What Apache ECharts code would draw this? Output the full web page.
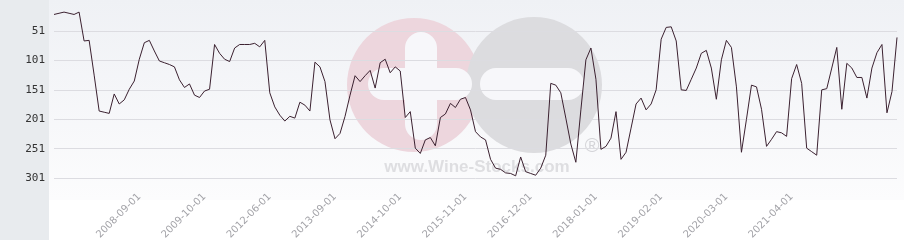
<!DOCTYPE html>
<html>
<head>
<meta charset="utf-8">
<script src="https://cdn.jsdelivr.net/npm/echarts@6/dist/echarts.min.js"></script>
<style>
html,body{margin:0;padding:0;background:#ffffff;}
#chart{width:904px;height:240px;}
</style>
</head>
<body>
<div id="chart"></div>
<script>
var categories = [
'2007-04-01','2007-05-01','2007-06-01','2007-07-01','2007-08-01','2007-09-01','2007-10-01','2007-11-01','2007-12-01',
'2008-01-01','2008-02-01','2008-03-01','2008-04-01','2008-05-01','2008-06-01','2008-07-01','2008-08-01','2008-09-01','2008-10-01','2008-11-01','2008-12-01',
'2009-01-01','2009-02-01','2009-03-01','2009-04-01','2009-05-01','2009-06-01','2009-07-01','2009-08-01','2009-09-01',
'2009-10-01','2009-11-01','2009-12-01','2010-01-01','2010-02-01','2010-03-01','2010-05-01','2010-08-01','2010-11-01',
'2011-03-01','2011-07-01','2011-11-01','2012-03-01','2012-06-01','2012-07-01','2012-08-01','2012-09-01','2012-10-01','2012-11-01',
'2013-01-01','2013-02-01','2013-03-01','2013-04-01','2013-05-01','2013-06-01','2013-08-01','2013-09-01','2013-10-01','2013-11-01','2013-12-01',
'2014-01-01','2014-02-01','2014-03-01','2014-04-01','2014-05-01','2014-06-01','2014-07-01','2014-08-01','2014-09-01','2014-10-01','2014-11-01','2014-12-01',
'2015-01-01','2015-02-01','2015-03-01','2015-04-01','2015-05-01','2015-06-01','2015-07-01','2015-08-01','2015-09-01','2015-10-01','2015-11-01','2015-12-01',
'2016-01-01','2016-02-01','2016-03-01','2016-04-01','2016-05-01','2016-06-01','2016-07-01','2016-08-01','2016-09-01','2016-10-01','2016-11-01','2016-12-01',
'2017-01-01','2017-02-01','2017-03-01','2017-04-01','2017-05-01','2017-06-01','2017-07-01','2017-08-01','2017-09-01','2017-10-01','2017-11-01','2017-12-01',
'2018-01-01','2018-02-01','2018-03-01','2018-04-01','2018-05-01','2018-06-01','2018-07-01','2018-08-01','2018-09-01','2018-10-01','2018-11-01','2018-12-01',
'2019-01-01','2019-02-01','2019-03-01','2019-04-01','2019-05-01','2019-06-01','2019-07-01','2019-08-01','2019-09-01','2019-10-01','2019-11-01','2019-12-01',
'2020-01-01','2020-02-01','2020-03-01','2020-04-01','2020-05-01','2020-06-01','2020-07-01','2020-08-01','2020-09-01','2020-10-01','2020-11-01','2020-12-01',
'2021-01-01','2021-02-01','2021-03-01','2021-04-01','2021-05-01','2021-06-01','2021-07-01','2021-08-01','2021-09-01','2021-10-01','2021-11-01','2021-12-01',
'2022-01-01','2022-02-01','2022-03-01','2022-04-01','2022-05-01','2022-06-01','2022-07-01','2022-08-01','2022-09-01','2022-10-01','2022-11-01','2022-12-01',
'2023-01-01'
];

var rankValues = [
23,21,19,21,23,19,68,67,126,187,189,191,158,175,168,150,136,99,71,67,
85,102,105,108,112,134,147,141,160,164,153,150,74,89,99,103,80,74,74,74,
72,78,67,156,180,194,204,196,199,172,177,187,104,112,137,202,234,225,196,160,
127,137,127,118,148,105,99,122,112,119,198,188,250,259,236,232,246,198,192,174,
181,167,164,185,222,231,236,269,284,286,292,293,297,265,290,293,296,284,262,140,
143,156,199,243,274,185,100,80,133,252,247,233,188,269,257,216,175,165,185,175,
151,65,45,44,68,151,152,133,114,89,84,114,167,100,67,79,146,257,201,143,
146,184,247,235,222,224,230,132,108,140,250,256,262,151,149,114,79,184,106,114,
130,130,165,114,88,74,190,154,62
];

var xTickLabels = ['2008-09-01','2009-10-01','2012-06-01','2013-09-01','2014-10-01','2015-11-01','2016-12-01','2018-01-01','2019-02-01','2020-03-01','2021-04-01'];

var yMin = 1, yMax = 335, yStep = 50;

var chart = echarts.init(document.getElementById('chart'), null, {renderer:'canvas'});
chart.setOption({
  animation: false,
  backgroundColor: '#ffffff',
  graphic: [
    {type:'rect', z:-10, shape:{x:49,y:0,width:855,height:200},
     style:{fill:new echarts.graphic.LinearGradient(0,0,0,1,[{offset:0,color:'#eff1f5'},{offset:1,color:'#fcfcfd'}])}},
    {type:'rect', z:-10, shape:{x:0,y:0,width:49,height:240}, style:{fill:'#e8ebee'}},
    {type:'circle', z:-5, shape:{cx:414,cy:85,r:67}, style:{fill:'#edd6dd'}},
    {type:'circle', z:-4, shape:{cx:534,cy:85,r:68}, style:{fill:'#dcdcdf'}},
    {type:'rect', z:-3, shape:{x:405,y:32,width:32,height:108,r:16}, style:{fill:'#f7f7fa'}},
    {type:'rect', z:-3, shape:{x:368,y:68,width:104,height:32,r:16}, style:{fill:'#f7f7fa'}},
    {type:'rect', z:-3, shape:{x:480,y:68,width:104,height:32,r:16}, style:{fill:'#f7f7fa'}},
    {type:'text', z:-3, style:{x:477,y:167,text:'www.Wine-Stocks.com',textAlign:'center',textVerticalAlign:'middle',
      font:'bold 17px "Liberation Sans", Arial, sans-serif',fill:'#dedee1'}},
    {type:'text', z:-3, style:{x:592,y:146,text:'\u00AE',textAlign:'center',textVerticalAlign:'middle',
      font:'20px "Liberation Sans", Arial, sans-serif',fill:'#d4d4d8'}}
  ],
  grid: {left:54, right:7, top:1.5, height:196.7, containLabel:false, outerBoundsMode:'none'},
  xAxis: {
    type:'category', data: categories, boundaryGap:false,
    axisLine:{show:false}, axisTick:{show:false}, splitLine:{show:false},
    axisLabel:{
      rotate:45, margin:-3, color:'#a3a3a8', fontSize:10,
      fontFamily:'"DejaVu Sans", sans-serif',
      hideOverlap:false,
      interval:function(i, v){ return xTickLabels.indexOf(v) >= 0; }
    }
  },
  yAxis: {
    type:'value', inverse:true, min:yMin, max:yMax, interval:yStep, z:3,
    axisLine:{show:false}, axisTick:{show:false},
    splitLine:{show:true, showMinLine:false, showMaxLine:false, lineStyle:{color:'#dcdce1', width:1}},
    axisLabel:{margin:9, color:'#333333', fontSize:11, fontFamily:'"DejaVu Sans Mono", monospace',
      showMinLabel:false, showMaxLabel:false}
  },
  series: [{
    type:'line', data: rankValues, z:5, symbol:'none', smooth:false,
    lineStyle:{color:'#3b2130', width:1}
  }]
});
</script>
</body>
</html>
